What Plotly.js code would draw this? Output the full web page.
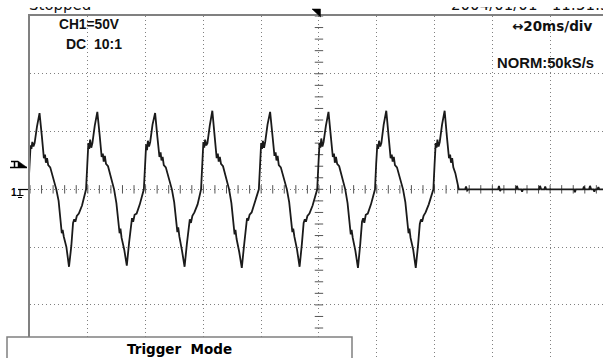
<!DOCTYPE html>
<html>
<head>
<meta charset="utf-8">
<script src="https://cdn.plot.ly/plotly-3.0.1.min.js"></script>
<style>
  html, body { margin: 0; padding: 0; background: #fff; overflow: hidden; }
  #wrap { position: relative; width: 603px; height: 358px; }
  #chart { width: 603px; height: 358px; }
  #topmask { position: absolute; left: 0; top: 0; width: 603px; height: 7px; background: #fff; z-index: 10; }
</style>
</head>
<body>
<div id="wrap"><div id="chart"></div><div id="topmask"></div></div>
<script>
// ---- Data (time in ms, 20 ms/div; voltage in V, 50 V/div) ----
const cycleStartMs = [-100.6, -80.6, -60.6, -40.8, -20.8, -0.6, 19.4, 39.6];
const cycleOffsetMs = [0, 0.4, 0.8, 1.1, 1.4, 1.8, 2.2, 3.0, 3.9, 4.7, 5.4, 5.8, 6.1, 6.5, 6.9, 7.6, 8.8, 9.7,
                       10.5, 11.2, 11.6, 11.9, 12.3, 13.2, 14.1, 14.9, 15.5, 15.9, 16.3, 16.8, 17.5, 18.6];
const cycle1V = [0, 22, 38, 35, 41, 37, 40, 54, 66, 46, 27, 30, 23, 27, 21, 19, 8, 0, -10, -31, -38, -35, -41, -50, -67, -49, -29, -26, -28, -23, -21, -14];
const cycle2V = [0, 20, 40, 35, 43, 36, 40, 55, 67, 47, 28, 31, 24, 29, 22, 20, 9, 0, -12, -32, -38, -34, -42, -52, -66, -46, -29, -25, -28, -22, -21, -13];
const cycle3V = [0, 21, 39, 34, 42, 37, 41, 56, 66, 45, 28, 32, 25, 28, 21, 19, 8, 0, -11, -30, -37, -33, -41, -53, -67, -47, -30, -26, -29, -23, -20, -13];
const cycle4V = [0, 22, 41, 36, 43, 38, 40, 55, 68, 46, 27, 31, 24, 28, 22, 20, 9, 0, -12, -33, -39, -35, -43, -54, -68, -48, -30, -25, -27, -22, -20, -12];
const cycle5V = [0, 20, 40, 35, 42, 36, 41, 56, 67, 47, 29, 32, 25, 29, 21, 19, 8, 0, -11, -31, -37, -34, -41, -52, -67, -47, -29, -26, -28, -23, -21, -14];
const cycle6V = [0, 21, 40, 36, 44, 37, 41, 55, 67, 46, 28, 31, 23, 28, 22, 20, 9, 0, -12, -32, -39, -35, -42, -53, -68, -47, -28, -25, -29, -22, -21, -13];
const cycle7V = [0, 22, 39, 35, 42, 37, 40, 56, 68, 46, 27, 30, 24, 28, 21, 19, 8, 0, -11, -31, -38, -34, -42, -52, -68, -48, -30, -26, -28, -23, -20, -13];
const cycle8V = [0, 21, 40, 36, 43, 37, 41, 56, 68, 45, 27, 30, 23, 27, 19, 14, 0];
const tailMs = [49.6, 50.6, 50.9, 51.3, 51.7, 62.0, 62.3, 62.7, 63.0, 68.2, 68.5, 68.9, 70.0, 70.3, 70.6,
                76.2, 76.5, 76.9, 78.0, 78.3, 78.6, 88.3, 88.6, 88.9, 91.4, 91.7, 92.0, 93.5, 93.8, 94.2,
                95.0, 95.3, 95.6, 96.4, 96.7, 97.0, 98.5];
const tailV = [0, 0, 2.5, -1, 0, 0, 3, -1.5, 0, 0, 3, 0, 0, -2, 0, 0, 3, 0, 0, 2.5, 0, 0, -2.5, 0,
               0, 2.5, 0, 0, 3, 0, 0, -2, 0, 0, 2, 0, 0];

const labelCh = "CH1=50V";
const labelCoupling = "DC\u00a0\u00a010:1";
const labelTimebase = "\u219420ms/div";
const labelSample = "NORM:50kS/s";
const labelState = "Stopped";
const labelDate = "2004/01/01\u00a0\u00a0\u00a011:51:55";
const labelMenu = "Trigger\u00a0 Mode";

// ---- assemble trace ----
const cycles = [cycle1V, cycle2V, cycle3V, cycle4V, cycle5V, cycle6V, cycle7V, cycle8V];
const tx = [], ty = [];
cycles.forEach((row, k) => {
  row.forEach((v, i) => { tx.push(cycleStartMs[k] + cycleOffsetMs[i]); ty.push(v); });
});
tailMs.forEach((t, i) => { tx.push(t); ty.push(tailV[i]); });

// graticule center-line tick marks (1/5 division)
const hTickX = [], hTickY = [];
for (let t = -100; t <= 98; t += 4) { hTickX.push(t); hTickY.push(0); }
const vTickX = [], vTickY = [];
for (let v = -140; v <= 150; v += 10) { vTickX.push(0); vTickY.push(v); }

// pixel -> paper helpers (plot area: x 30..603, y 16..358)
const L = 30, T = 16, W = 573, H = 342;
const ax = px => (px - L) / W;
const ay = py => 1 - (py - T) / H;
const P = (x, y) => ax(x).toFixed(5) + ',' + ay(y).toFixed(5);

const shapes = [
  // trigger position marker (top)
  {type: 'path', xref: 'paper', yref: 'paper', path: 'M ' + P(312, 9) + ' L ' + P(320.5, 9) + ' L ' + P(320.5, 17) + ' Z',
   fillcolor: '#000', line: {color: '#000', width: 0.5}},
  // trigger level marker (left)
  {type: 'line', xref: 'paper', yref: 'paper', x0: ax(10), y0: ay(167.5), x1: ax(27), y1: ay(167.5), line: {color: '#000', width: 1.5}},
  {type: 'path', xref: 'paper', yref: 'paper', path: 'M ' + P(18, 161) + ' L ' + P(27, 167.5) + ' L ' + P(18, 167.5) + ' Z',
   fillcolor: '#000', line: {color: '#000', width: 0.5}},
  {type: 'line', xref: 'paper', yref: 'paper', x0: ax(11), y0: ay(161.5), x1: ax(18), y1: ay(161.5), line: {color: '#000', width: 1.5}},
  {type: 'line', xref: 'paper', yref: 'paper', x0: ax(14.5), y0: ay(161.5), x1: ax(14.5), y1: ay(167), line: {color: '#000', width: 1.5}},
  // ground marker
  {type: 'line', xref: 'paper', yref: 'paper', x0: ax(18), y0: ay(189.5), x1: ax(28), y1: ay(189.5), line: {color: '#000', width: 1.2}},
  {type: 'line', xref: 'paper', yref: 'paper', x0: ax(20), y0: ay(189.5), x1: ax(20), y1: ay(195), line: {color: '#000', width: 1.2}},
  {type: 'line', xref: 'paper', yref: 'paper', x0: ax(16.5), y0: ay(195.5), x1: ax(23.5), y1: ay(195.5), line: {color: '#000', width: 1}},
  {type: 'line', xref: 'paper', yref: 'paper', x0: ax(18), y0: ay(197.5), x1: ax(22), y1: ay(197.5), line: {color: '#000', width: 1}},
  // menu box
  {type: 'rect', xref: 'paper', yref: 'paper', x0: ax(7), x1: ax(352), y0: ay(366), y1: ay(337),
   fillcolor: '#fff', line: {color: '#808080', width: 1.5}, layer: 'above'}
];

const baseFont = {family: 'Liberation Sans, Arial, sans-serif', size: 14, color: '#111', weight: 'bold'};
const ann = (text, x, y, xanchor, font) => ({
  text, xref: 'paper', yref: 'paper', x: ax(x), y: ay(y), xanchor, yanchor: 'middle',
  showarrow: false, font: Object.assign({}, baseFont, font || {})
});
const annotations = [
  ann(labelCh, 57, 25, 'left', {size: 13.75}),
  ann(labelCoupling, 64, 44, 'left', {size: 14}),
  ann(labelTimebase, 594, 26, 'right', {family: 'DejaVu Sans, sans-serif', size: 13.5}),
  ann(labelSample, 596, 63, 'right', {size: 14.8}),
  ann(labelState, 27, 5, 'left', {family: 'DejaVu Sans, sans-serif', size: 15, weight: 'normal'}),
  ann(labelDate, 449, 5, 'left', {family: 'DejaVu Sans, sans-serif', size: 15, weight: 'normal'}),
  ann(labelMenu, 179, 349, 'center', {family: 'DejaVu Sans, sans-serif', size: 13.5, color: '#000'}),
  ann('1', 14, 192, 'center', {size: 10, color: '#000'})
];

const traces = [
  {x: hTickX, y: hTickY, type: 'scatter', mode: 'markers', hoverinfo: 'skip',
   marker: {symbol: 'line-ns-open', size: 6, color: '#555', line: {color: '#555', width: 1}}},
  {x: vTickX, y: vTickY, type: 'scatter', mode: 'markers', hoverinfo: 'skip',
   marker: {symbol: 'line-ew-open', size: 6, color: '#555', line: {color: '#555', width: 1}}},
  {x: tx, y: ty, type: 'scatter', mode: 'lines', hoverinfo: 'skip',
   line: {color: '#1a1a1a', width: 1.8}}
];

const gridStyle = {showgrid: true, gridcolor: '#808080', gridwidth: 1, griddash: '1px,3px',
  zeroline: false, showticklabels: false, ticks: '', showline: true, linecolor: '#808080', linewidth: 2, fixedrange: true};

const layout = {
  width: 603, height: 358,
  margin: {l: L, r: 0, t: T, b: 0, pad: 0},
  paper_bgcolor: '#fff', plot_bgcolor: '#fff',
  showlegend: false, hovermode: false,
  xaxis: Object.assign({range: [-100, 98.3], side: 'top', tick0: 0, dtick: 20}, gridStyle),
  yaxis: Object.assign({range: [-145.95, 150], tick0: 0, dtick: 50}, gridStyle),
  shapes, annotations
};

Plotly.newPlot('chart', traces, layout, {displayModeBar: false, staticPlot: true});
</script>
</body>
</html>
